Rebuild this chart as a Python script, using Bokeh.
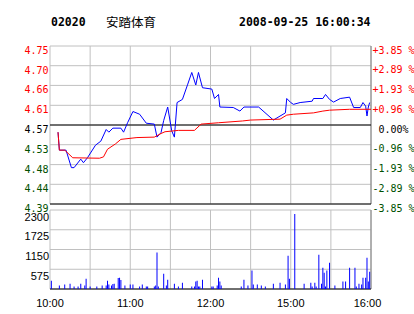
from bokeh.plotting import figure
from bokeh.models import Range1d
from bokeh.core.properties import value
from bokeh.embed import file_html
from bokeh.resources import INLINE

# ---------------- data ----------------
stock_code = "02020"
stock_name = "安踏体育"
stamp = "2008-09-25 16:00:34"
prev_close = 4.57

price_labels = ["4.39", "4.44", "4.48", "4.53", "4.57", "4.61", "4.66", "4.70", "4.75"]
pct_values = [-3.85, -2.89, -1.93, -0.96, 0.0, 0.96, 1.93, 2.89, 3.85]
pct_labels = ["-3.85 %", "-2.89 %", "-1.93 %", "-0.96 %", "0.00%", "+0.96 %", "+1.93 %", "+2.89 %", "+3.85 %"]

vol_ticks = [0, 575, 1150, 1725, 2300]
vol_labels = ["", "575", "1150", "1725", "2300"]

time_ticks = ["10:00", "11:00", "12:00", "15:00", "16:00"]
grid_times = ["10:00", "10:30", "11:00", "11:30", "12:00", "12:30", "15:00", "15:30", "16:00"]

price_times = ["10:06", "10:07", "10:12", "10:16", "10:18", "10:23", "10:25", "10:28", "10:34", "10:38",
               "10:42", "10:44", "10:47", "10:53", "10:55", "10:58", "11:02", "11:07", "11:12", "11:18",
               "11:20", "11:23", "11:25", "11:28", "11:31", "11:33", "11:35", "11:39", "11:43", "11:46",
               "11:49", "11:51", "11:54", "12:01", "12:03", "12:06", "12:07", "12:17", "12:22", "12:25",
               "14:36", "14:47", "14:56", "14:57", "15:00", "15:02", "15:07", "15:16", "15:17", "15:24",
               "15:26", "15:29", "15:32", "15:37", "15:44", "15:47", "15:52", "15:54", "15:56", "15:57",
               "15:58", "15:59"]
price_values = [4.554, 4.514, 4.514, 4.475, 4.475, 4.494, 4.486, 4.497, 4.525, 4.534,
                4.560, 4.554, 4.563, 4.563, 4.554, 4.575, 4.600, 4.594, 4.574, 4.572,
                4.543, 4.553, 4.580, 4.610, 4.557, 4.543, 4.620, 4.627, 4.661, 4.687,
                4.659, 4.687, 4.653, 4.650, 4.629, 4.638, 4.610, 4.609, 4.601, 4.610,
                4.610, 4.581, 4.597, 4.629, 4.620, 4.616, 4.620, 4.623, 4.629, 4.629,
                4.638, 4.627, 4.621, 4.629, 4.632, 4.609, 4.609, 4.620, 4.612, 4.590,
                4.610, 4.620]

avg_times = ["10:06", "10:07", "10:11", "10:17", "10:37", "10:40", "10:43", "10:49", "10:53", "11:05",
             "11:18", "11:23", "11:26", "11:36", "11:48", "11:53", "12:06", "12:24", "12:30", "14:52",
             "14:57", "15:02", "15:17", "15:24", "15:29", "15:44", "16:00"]
avg_values = [4.554, 4.514, 4.514, 4.497, 4.496, 4.499, 4.516, 4.528, 4.538, 4.542,
              4.543, 4.551, 4.555, 4.558, 4.558, 4.572, 4.575, 4.579, 4.581, 4.583,
              4.592, 4.594, 4.597, 4.601, 4.603, 4.605, 4.605]

vol_times = ["10:01", "10:07", "10:11", "10:15", "10:18", "10:21", "10:23", "10:26", "10:27", "10:30",
             "10:35", "10:39", "10:42", "10:43", "10:44", "10:46", "10:47", "10:48", "10:51", "10:52",
             "10:53", "10:56", "11:00", "11:02", "11:07", "11:09", "11:12", "11:13", "11:18", "11:19",
             "11:20", "11:21", "11:25", "11:27", "11:28", "11:33", "11:36", "11:39", "11:46", "11:48",
             "11:49", "11:50", "11:51", "11:52", "11:54", "12:01", "12:02", "12:05", "12:06", "12:07",
             "12:08", "12:23", "12:25", "12:28", "14:31", "14:32", "14:35", "14:38", "14:41", "14:47",
             "14:52", "14:56", "14:58", "14:59", "15:03", "15:10", "15:15", "15:16", "15:18", "15:19",
             "15:21", "15:23", "15:24", "15:25", "15:26", "15:27", "15:29", "15:33", "15:39", "15:41",
             "15:44", "15:48", "15:49", "15:51", "15:53", "15:54", "15:56", "15:57", "15:58", "15:59"]
vol_values = [240, 100, 130, 150, 70, 70, 150, 100, 300, 70,
              70, 100, 100, 240, 130, 100, 145, 155, 320, 330,
              260, 100, 130, 130, 70, 130, 70, 70, 70, 100,
              1065, 70, 445, 100, 270, 155, 70, 185, 70, 70,
              215, 240, 70, 70, 270, 70, 70, 100, 330, 215,
              100, 70, 270, 100, 535, 130, 130, 100, 70, 155,
              185, 130, 970, 300, 2185, 155, 185, 70, 185, 70,
              1000, 155, 620, 475, 70, 535, 765, 100, 215, 215,
              620, 620, 70, 155, 130, 330, 330, 910, 215, 505]


def tmin(s):
    h, m = map(int, s.split(":"))
    mins = h * 60 + m
    return mins - 600 if mins <= 750 else mins - 870 + 150


# ---------------- layout / style ----------------
W, H = 414, 314
PX_L, PX_R = 49.5, 370.5          # panel left / right edge (px)
PR_T, PR_B = 45.5, 203.5          # price panel top / bottom (px)
VO_T, VO_B = 209.5, 288.5         # volume panel top / bottom (px)

GRID = "#C0C0C0"
EDGE = "#808080"
RED = "#FF0000"
GREEN = "#005000"
BLUE = "#0000FF"
MONO = "DejaVu Sans Mono"
SANS = "Liberation Sans"

x_end = tmin("16:00")
price_ticks = [prev_close * (1 + v / 100) for v in pct_values]
p_lo, p_hi = price_ticks[0], price_ticks[-1]
v_lo, v_hi = vol_ticks[0], vol_ticks[-1]
grid_x = [tmin(t) for t in grid_times]

kx = x_end / (PX_R - PX_L)
kp = (p_hi - p_lo) / (PR_B - PR_T)
kv = (v_hi - v_lo) / (VO_B - VO_T)

p = figure(width=W, height=H, output_backend="svg", toolbar_location=None,
           x_axis_location=None, y_axis_location=None,
           x_range=Range1d(0 - PX_L * kx, x_end + (W - PX_R) * kx),
           y_range=Range1d(p_lo - (H - PR_B) * kp, p_hi + PR_T * kp),
           min_border=0, min_border_left=0, min_border_right=0, min_border_top=0, min_border_bottom=0)
p.extra_y_ranges = {"vol": Range1d(v_lo - (H - VO_B) * kv, v_hi + VO_T * kv)}
p.xgrid.visible = False
p.ygrid.visible = False
p.outline_line_color = None
p.background_fill_color = "white"
p.border_fill_color = "white"

# price panel grid
n = len(price_ticks)
p.segment(x0=[0] * n, x1=[x_end] * n, y0=price_ticks, y1=price_ticks, line_color=GRID, line_width=1)
m = len(grid_x)
p.segment(x0=grid_x, x1=grid_x, y0=[p_lo] * m, y1=[p_hi] * m, line_color=GRID, line_width=1)
p.segment(x0=[x_end], x1=[x_end], y0=[p_lo], y1=[p_hi], line_color=EDGE, line_width=1)
p.segment(x0=[0, 0], x1=[x_end, x_end], y0=[prev_close, p_lo], y1=[prev_close, p_lo],
          line_color="black", line_width=1)

# volume panel grid
k = len(vol_ticks)
p.segment(x0=[0] * k, x1=[x_end] * k, y0=vol_ticks, y1=vol_ticks, line_color=GRID, line_width=1,
          y_range_name="vol")
p.segment(x0=grid_x, x1=grid_x, y0=[v_lo] * m, y1=[v_hi] * m, line_color=GRID, line_width=1,
          y_range_name="vol")
p.segment(x0=[x_end], x1=[x_end], y0=[v_lo], y1=[v_hi], line_color=EDGE, line_width=1, y_range_name="vol")
p.segment(x0=[0], x1=[x_end], y0=[v_lo], y1=[v_lo], line_color="black", line_width=1, y_range_name="vol")

# volume bars
p.vbar(x=[tmin(t) for t in vol_times], top=vol_values, bottom=0, width=0.75,
       fill_color=BLUE, line_color=None, y_range_name="vol")

# price and average lines
p.line([tmin(t) for t in price_times], price_values, line_color=BLUE, line_width=1)
p.line([tmin(t) for t in avg_times], avg_values, line_color=RED, line_width=1)

# tick labels
colors = [GREEN if v < 0 else ("black" if v == 0 else RED) for v in pct_values]
p.text(x=[0] * n, y=price_ticks, text=price_labels, text_color=colors,
       x_offset=-1.5, y_offset=4, text_align="right", text_baseline="alphabetic",
       text_font=value(MONO), text_font_size="10px")
right_off = [7.5 if v == 0 else 1.5 for v in pct_values]
p.text(x=[x_end] * n, y=price_ticks, text=pct_labels, text_color=colors,
       x_offset=right_off, y_offset=4, text_align="left", text_baseline="alphabetic",
       text_font=value(MONO), text_font_size="10px")

p.text(x=[0] * k, y=vol_ticks, text=vol_labels, text_color="black",
       x_offset=-1, y_offset=6.5, text_align="right", text_baseline="alphabetic",
       text_font=value(SANS), text_font_size="11px", y_range_name="vol")

tt = [tmin(t) for t in time_ticks]
time_off = [0, 0, 0, 0, -3.5]
p.text(x=tt, y=[v_lo] * len(tt), text=time_ticks, text_color="black",
       x_offset=time_off, y_offset=13.5, text_align="center", text_baseline="alphabetic",
       text_font=value(SANS), text_font_size="11px", y_range_name="vol")

# title
p.text(x=[0], y=[p_hi], text=[stock_code], x_offset=1, y_offset=-24.5, text_baseline="alphabetic",
       text_font=value(MONO), text_font_style="bold", text_font_size="11.5px", text_color="black")
p.text(x=[0], y=[p_hi], text=[stock_name], x_offset=56, y_offset=-25, text_baseline="alphabetic",
       text_font=value("Noto Sans CJK SC"), text_font_size="12.5px", text_color="black")
p.text(x=[0], y=[p_hi], text=[stamp], x_offset=189, y_offset=-24.5, text_baseline="alphabetic",
       text_font=value(MONO), text_font_style="bold", text_font_size="11.5px", text_color="black")

open("out.html", "w").write(file_html(p, INLINE))
